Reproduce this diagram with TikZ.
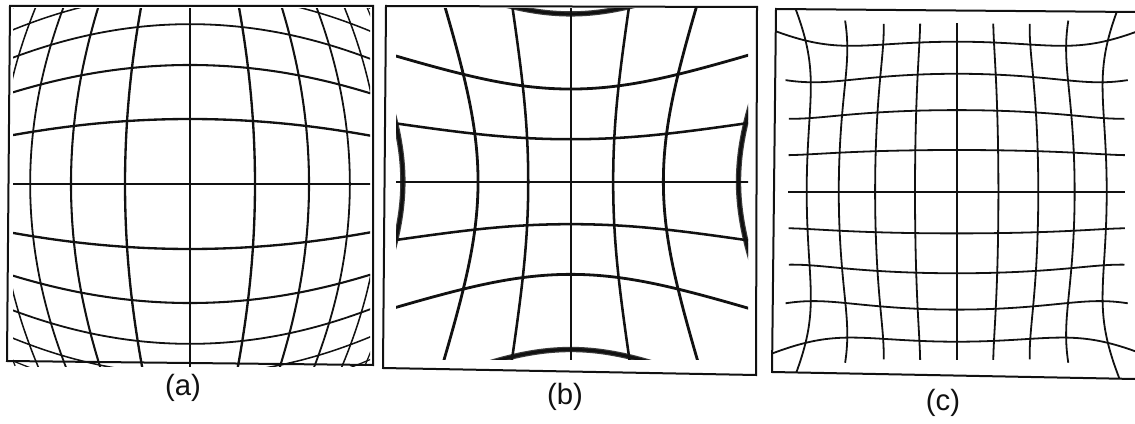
\documentclass[tikz,border=0pt]{standalone}
\usepackage{fontspec}
\setmainfont{Liberation Sans}
\usetikzlibrary{calc}
\definecolor{ldInk}{HTML}{111111}
\definecolor{ldBlur}{HTML}{3C3C3C}
\tikzset{
  ld canvas/.style={fill=white},
  ld frame/.style={draw=ldInk, line width=1.5pt, line join=miter},
  ld line/.style={draw=ldInk, line cap=butt},
  ld blur/.style={draw=ldBlur, line cap=butt, line width=4pt},
  ld label/.style={font=\fontsize{22}{26}\selectfont, text=ldInk, inner sep=0pt},
  % radial factors, argument is the squared radius
  declare function={
    barrelg(\q) = exp(-0.35*ln(1+0.1056*\q));
    pinf(\q) = 1+0.0215*\q+0.0019*\q*\q;
    mustf(\q) = 1-0.0072*\q+0.2087*(\q/36)^4;
  }
}

\begin{document}
\begin{tikzpicture}[x={(0.75pt,0)}, y={(0,-0.75pt)}]
  \path[ld canvas] (0,0) rectangle (1135,424);
  \useasboundingbox (0,0) rectangle (1135,424);

  % (a) barrel
  \coordinate (aNW) at (10,6);
  \coordinate (aNE) at (373,6);
  \coordinate (aSE) at (373,365);
  \coordinate (aSW) at (7,361);
  \begin{scope}
    \clip (13,9) rectangle (370,366);
    \foreach \i in {-5,...,5}{
      \pgfmathsetmacro\w{1.95-0.2*abs(\i)}
      \draw[ld line, line width=\w pt] plot[domain=-5.2:5.2, samples=90, smooth, variable=\t]
        ({190+67.3*(\i)*barrelg((\i)*(\i)+(\t)*(\t))}, {184+67.3*(\t)*barrelg((\i)*(\i)+(\t)*(\t))});
      \draw[ld line, line width=\w pt] plot[domain=-5.2:5.2, samples=90, smooth, variable=\t]
        ({190+67.3*(\t)*barrelg((\i)*(\i)+(\t)*(\t))}, {184+67.3*(\i)*barrelg((\i)*(\i)+(\t)*(\t))});
    }
  \end{scope}
  \draw[ld frame] (aNW) -- (aNE) -- (aSE) -- (aSW) -- cycle;
  \node[ld label] (labA) at (183,388) {(a)};

  % (b) pincushion
  \coordinate (bNW) at (386,6);
  \coordinate (bNE) at (757,7);
  \coordinate (bSE) at (756,375);
  \coordinate (bSW) at (383,368);
  \begin{scope}
    \clip (396,9) rectangle (748,359);
    \foreach \i in {-3,3}{
      \draw[ld blur] plot[domain=-4:4, samples=80, smooth, variable=\t]
        ({570.7+41.5*(\i)*pinf((\i)*(\i)+(\t)*(\t))}, {181.7+41.5*(\t)*pinf((\i)*(\i)+(\t)*(\t))});
      \draw[ld blur] plot[domain=-4:4, samples=80, smooth, variable=\t]
        ({570.7+41.5*(\t)*pinf((\i)*(\i)+(\t)*(\t))}, {181.7+41.5*(\i)*pinf((\i)*(\i)+(\t)*(\t))});
    }
    \foreach \i in {-3,...,3}{
      \pgfmathsetmacro\w{1.7+0.2*abs(\i)}
      \draw[ld line, line width=\w pt] plot[domain=-4:4, samples=80, smooth, variable=\t]
        ({570.7+41.5*(\i)*pinf((\i)*(\i)+(\t)*(\t))}, {181.7+41.5*(\t)*pinf((\i)*(\i)+(\t)*(\t))});
      \draw[ld line, line width=\w pt] plot[domain=-4:4, samples=80, smooth, variable=\t]
        ({570.7+41.5*(\t)*pinf((\i)*(\i)+(\t)*(\t))}, {181.7+41.5*(\i)*pinf((\i)*(\i)+(\t)*(\t))});
    }
  \end{scope}
  \draw[ld frame] (bNW) -- (bNE) -- (bSE) -- (bSW) -- cycle;
  \node[ld label] (labB) at (565,397) {(b)};

  % (c) mustache
  \coordinate (cNW) at (776,9);
  \coordinate (cNE) at (1135,12);
  \coordinate (cSE) at (1135,379);
  \coordinate (cSW) at (772,372);
  \begin{scope}
    \clip (cNW) -- (cNE) -- (cSE) -- (cSW) -- cycle;
    \foreach \i in {-4,...,4}{
      \draw[ld line, line width=1.35pt] plot[domain=-4.6:4.6, samples=90, smooth, variable=\t]
        ({956.7+42*(\i)*mustf((\i)*(\i)+(\t)*(\t))}, {191.7+42*(\t)*mustf((\i)*(\i)+(\t)*(\t))});
      \draw[ld line, line width=1.35pt] plot[domain=-4.6:4.6, samples=90, smooth, variable=\t]
        ({956.7+42*(\t)*mustf((\i)*(\i)+(\t)*(\t))}, {191.7+42*(\i)*mustf((\i)*(\i)+(\t)*(\t))});
    }
  \end{scope}
  \draw[ld frame] (cNE) -- (cNW) -- (cSW) -- (cSE);
  \node[ld label] (labC) at (943,403) {(c)};
\end{tikzpicture}
\end{document}
